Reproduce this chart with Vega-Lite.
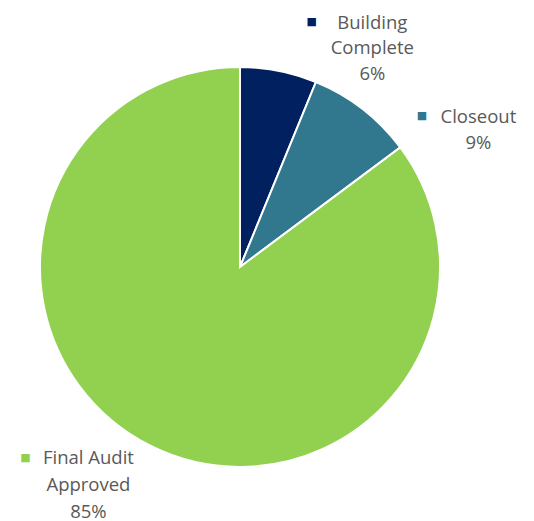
{
  "$schema": "https://vega.github.io/schema/vega-lite/v6.json",
  "width": 480,
  "height": 534,
  "padding": {"left": 0, "top": 0, "right": 54, "bottom": 0},
  "autosize": {"type": "none"},
  "background": "white",
  "config": {"view": {"stroke": null}},
  "data": {"values": [
    {"cat": "Building Complete", "value": 6.2, "label": "Building\nComplete\n6%"},
    {"cat": "Closeout", "value": 8.6, "label": "Closeout\n9%"},
    {"cat": "Final Audit Approved", "value": 85.2, "label": "Final Audit\nApproved\n85%"}
  ]},
  "encoding": {
    "theta": {"field": "value", "type": "quantitative", "stack": true},
    "color": {"field": "cat", "type": "nominal", "legend": null,
      "scale": {"domain": ["Building Complete", "Closeout", "Final Audit Approved"], "range": ["#002060", "#31788F", "#92D050"]}}
  },
  "layer": [
    {"mark": {"type": "arc", "outerRadius": 200, "stroke": "white", "strokeWidth": 2}},
    {"mark": {"type": "text", "radius": 260, "dx": 82, "dy": 11, "fontSize": 18.5, "font": "Open Sans", "lineHeight": 25.5, "lineBreak": "\n", "align": "center", "baseline": "middle", "fill": "#595959"},
     "encoding": {"text": {"condition": {"test": "datum.cat === 'Building Complete'", "field": "label"}, "value": ""}, "color": {"field": "cat", "type": "nominal", "legend": null}}},
    {"mark": {"type": "text", "radius": 260, "dx": 79, "dy": 55, "fontSize": 18.5, "font": "Open Sans", "lineHeight": 26.5, "lineBreak": "\n", "align": "center", "baseline": "middle", "fill": "#595959"},
     "encoding": {"text": {"condition": {"test": "datum.cat === 'Closeout'", "field": "label"}, "value": ""}, "color": {"field": "cat", "type": "nominal", "legend": null}}},
    {"mark": {"type": "text", "radius": 260, "dx": -35, "dy": -41, "fontSize": 18.5, "font": "Open Sans", "lineHeight": 27, "lineBreak": "\n", "align": "center", "baseline": "middle", "fill": "#595959"},
     "encoding": {"text": {"condition": {"test": "datum.cat === 'Final Audit Approved'", "field": "label"}, "value": ""}, "color": {"field": "cat", "type": "nominal", "legend": null}}},
    {"mark": {"type": "text", "radius": 260, "dx": 21.5, "dy": 10, "fontSize": 11, "font": "DejaVu Sans", "align": "center", "baseline": "middle"},
     "encoding": {"text": {"condition": {"test": "datum.cat === 'Building Complete'", "value": "■"}, "value": ""}}},
    {"mark": {"type": "text", "radius": 260, "dx": 22.6, "dy": 54.4, "fontSize": 11, "font": "DejaVu Sans", "align": "center", "baseline": "middle"},
     "encoding": {"text": {"condition": {"test": "datum.cat === 'Closeout'", "value": "■"}, "value": ""}}},
    {"mark": {"type": "text", "radius": 260, "dx": -98, "dy": -41, "fontSize": 11, "font": "DejaVu Sans", "align": "center", "baseline": "middle"},
     "encoding": {"text": {"condition": {"test": "datum.cat === 'Final Audit Approved'", "value": "■"}, "value": ""}}}
  ]
}
